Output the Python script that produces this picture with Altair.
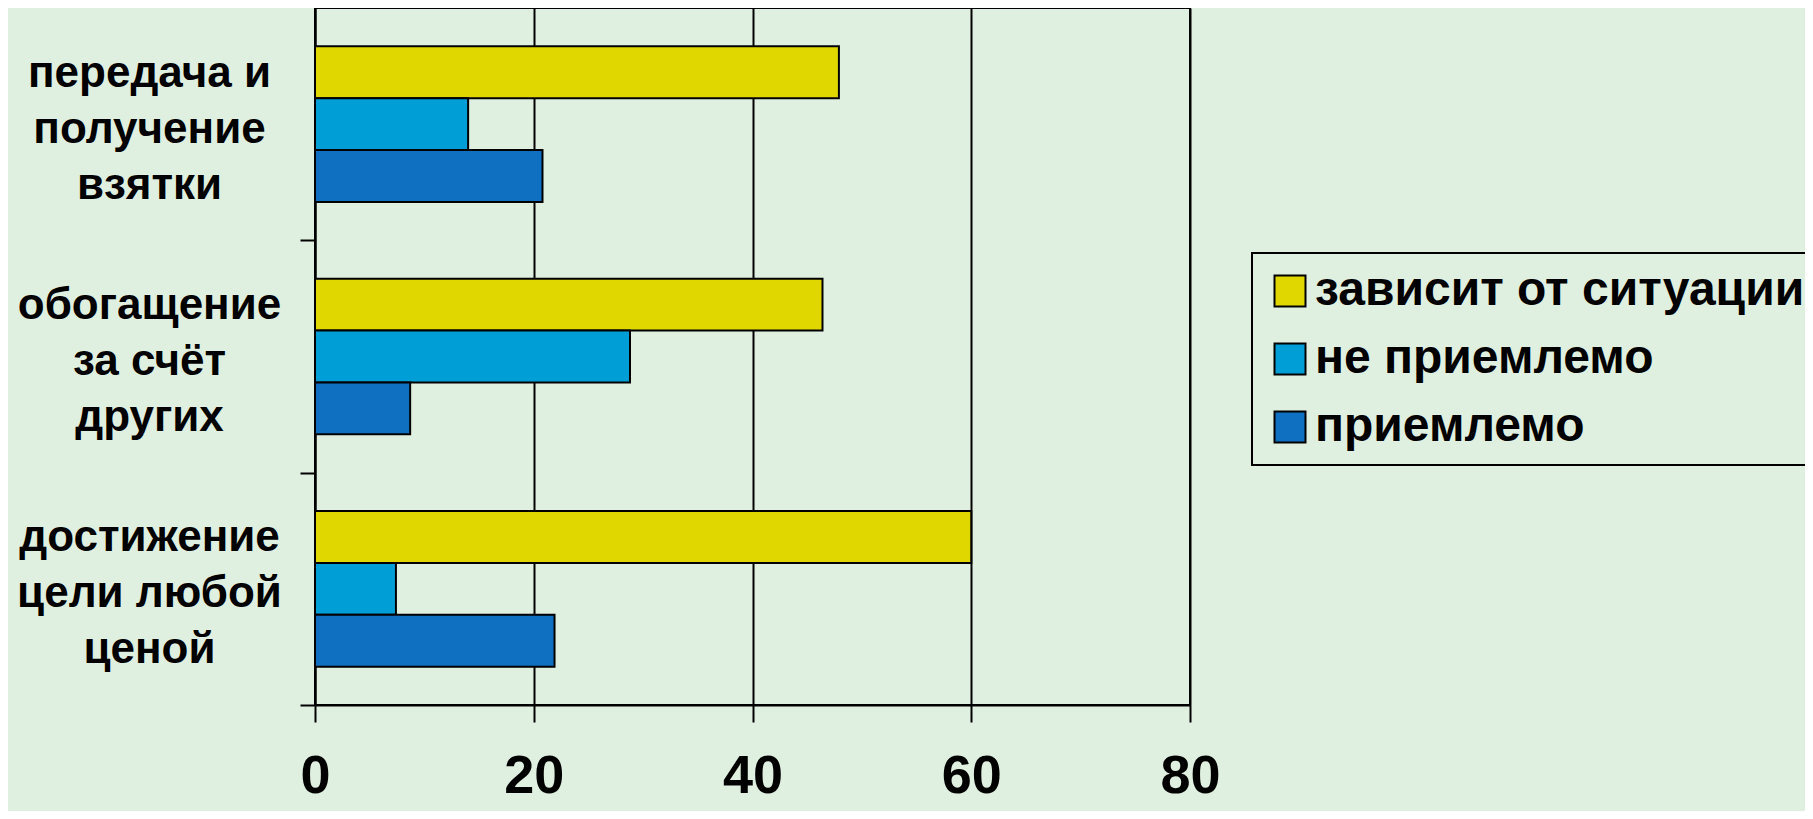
import altair as alt
import pandas as pd

categories = ["передача и|получение|взятки", "обогащение|за счёт|других", "достижение|цели любой|ценой"]
series = ["зависит от ситуации", "не приемлемо", "приемлемо"]
colors = ["#E0D700", "#009ED6", "#0F6FC1"]

values_depends = [47.9, 46.4, 60.0]
values_not_ok = [14.0, 28.8, 7.4]
values_ok = [20.8, 8.7, 21.9]
x_ticks = [0, 20, 40, 60, 80]

rows = []
for i, c in enumerate(categories):
    for s, vals in zip(series, [values_depends, values_not_ok, values_ok]):
        rows.append({"category": c, "series": s, "value": vals[i]})
df = pd.DataFrame(rows)

FONT = "Liberation Sans"
PLOT_H = 697
STEP = PLOT_H / 3.0
LINE_H = 56

chart = alt.Chart(df).mark_bar(stroke="black", strokeWidth=2).encode(
    x=alt.X("value:Q",
            scale=alt.Scale(domain=[0, 80], nice=False),
            axis=alt.Axis(values=x_ticks, title=None, grid=True, gridColor="black", gridWidth=2,
                          domainColor="black", domainWidth=2, tickColor="black", tickWidth=2,
                          tickSize=17, labelFont=FONT, labelFontWeight="bold", labelFontSize=54,
                          labelColor="black", labelPadding=27, labelFlush=False)),
    y=alt.Y("category:N", sort=categories,
            scale=alt.Scale(paddingInner=0.33, paddingOuter=0.165),
            axis=alt.Axis(title=None, labelExpr="split(datum.label, '|')", grid=False,
                          domainColor="black", domainWidth=2, tickColor="black", tickWidth=2,
                          tickSize=15, tickOffset=STEP / 2, labelOffset=-STEP / 2 - LINE_H + 5,
                          labelFont=FONT, labelFontWeight="bold",
                          labelFontSize=44, labelLineHeight=LINE_H, labelColor="black",
                          labelAlign="center", labelBaseline="middle", labelPadding=151,
                          labelLimit=0)),
    yOffset=alt.YOffset("series:N", sort=series, scale=alt.Scale(paddingInner=0, paddingOuter=0)),
    color=alt.Color("series:N", sort=series,
                    scale=alt.Scale(domain=series, range=colors),
                    legend=alt.Legend(orient="none", legendX=937, legendY=245, title=None,
                                      symbolType="square", symbolSize=961,
                                      symbolStrokeColor="black", symbolStrokeWidth=2,
                                      labelFont=FONT, labelFontWeight="bold", labelFontSize=48,
                                      labelColor="black", labelOffset=1, padding=14,
                                      rowPadding=20, strokeColor="black", labelLimit=0)),
).properties(
    width=875, height=PLOT_H,
    padding={"left": 307, "top": 0, "right": 615, "bottom": 106},
    autosize=alt.AutoSizeParams(type="none"),
    background="#e0f0e0",
).configure_view(stroke="black", strokeWidth=2).configure_legend(strokeWidth=2)

chart.save("out.html", embed_options={"renderer": "svg", "actions": False})
